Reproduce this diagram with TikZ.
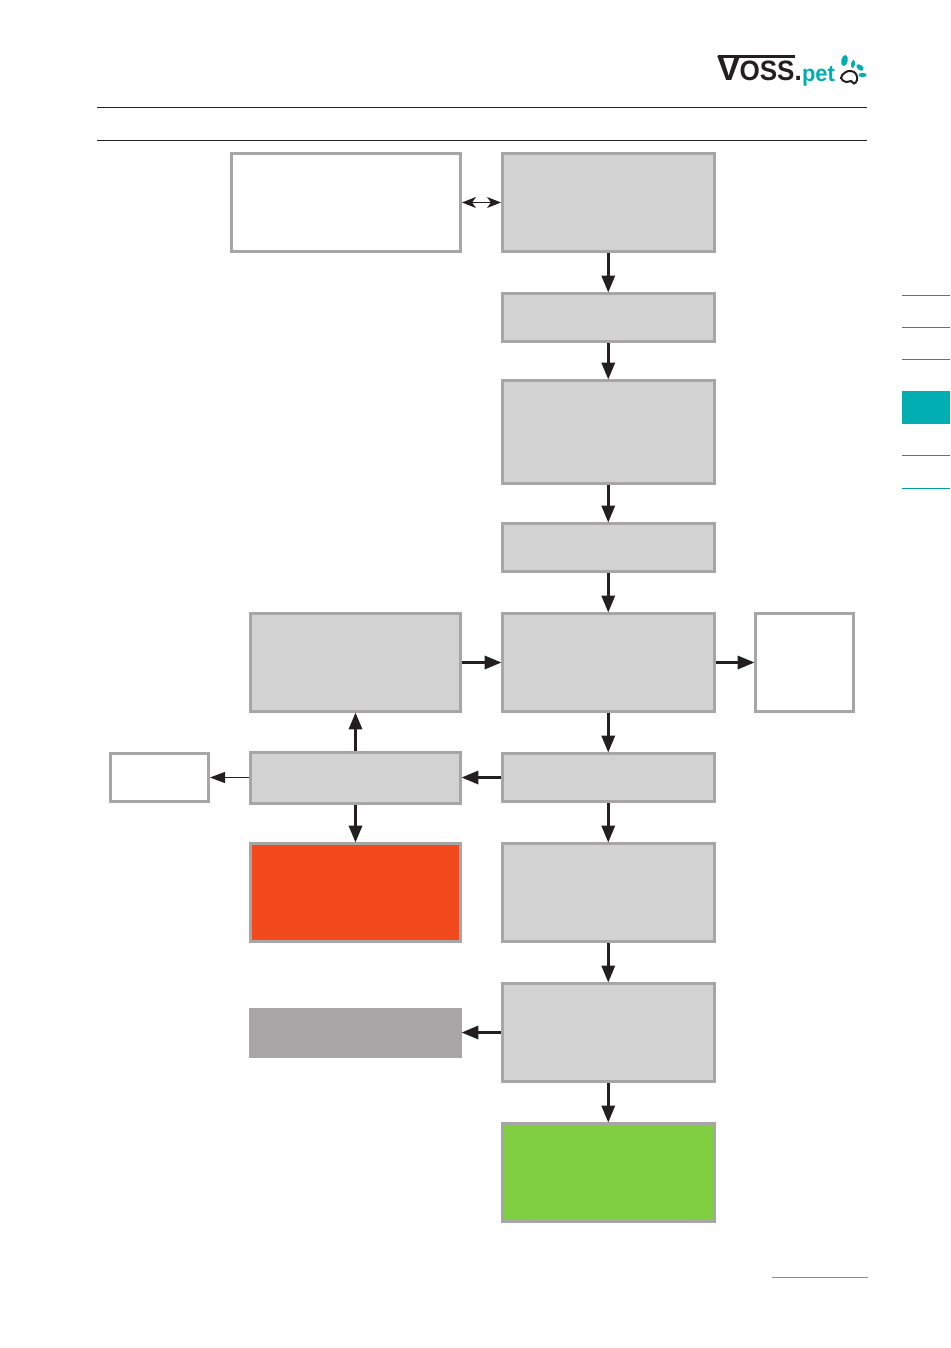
\documentclass[tikz,border=0pt]{standalone}
\usepackage{fontspec}
\setmainfont{Liberation Sans}
\usetikzlibrary{arrows.meta}
\definecolor{bordergray}{HTML}{A7A5A6}
\definecolor{boxgray}{HTML}{D2D2D2}
\definecolor{darkbox}{HTML}{A7A5A6}
\definecolor{redbox}{HTML}{F2491D}
\definecolor{greenbox}{HTML}{80CE41}
\definecolor{teal}{HTML}{00ADB1}
\definecolor{ink}{HTML}{231F20}
\tikzset{x=1pt,y=-1pt,
 bx/.style={draw=bordergray,line width=3pt,outer sep=1.5pt,inner sep=0pt,fill=#1},
 bx/.default=boxgray,
 flatbox/.style={fill=darkbox,draw=none,outer sep=0pt,inner sep=0pt},
 flow/.style={ink,line width=3.2pt,-{Triangle[length=17pt,width=13pt]},shorten >=-0.6pt},
 thinflow/.style={ink,line width=1pt,-{Triangle[length=15pt,width=11pt]}},
 both/.style={ink,line width=1pt,{Stealth[length=14pt,width=11pt,inset=4pt]}-{Stealth[length=14pt,width=11pt,inset=4pt]}},
 rule/.style={ink,line width=1pt},
 tab/.style={teal!90!black,line width=1pt},
 paw/.style={fill=teal,draw=none},
 logotext/.style={anchor=base west,inner sep=0pt,outer sep=0pt}
}
\newcommand{\bxnode}[6][bx]{\node[#1,minimum width=#4pt-#2pt-3pt,minimum height=#6pt-#5pt-3pt] (#3) at ({(#2+#4)/2},{(#5+#6)/2}) {};}
\begin{document}
\begin{tikzpicture}
\useasboundingbox (0,0) rectangle (950,1348);
\fill[white] (0,0) rectangle (950,1348);
% logo
\node[logotext,text=ink,font=\bfseries\fontsize{35}{35}\selectfont] (logov) at (717,81) {V};
\node[logotext,text=ink,font=\bfseries\fontsize{28}{28}\selectfont,xscale=0.93] (logooss) at (739.5,81) {OSS.};
\node[logotext,text=teal,font=\bfseries\fontsize{23}{23}\selectfont,xscale=0.95] (logopet) at (802,81.5) {pet};
\fill[ink] (718,55.5) rectangle (795,58);
\fill[paw,rotate around={-12:(844.5,60.5)}] (844.5,60.5) ellipse (3.3 and 5.6);
\fill[paw,rotate around={-8:(853,64)}] (853,64) ellipse (2 and 4);
\fill[paw,rotate around={55:(860,67.5)}] (860,67.5) ellipse (2.6 and 4.2);
\fill[paw] (862.5,75) ellipse (4 and 2.1);
\draw[ink,line width=2pt] plot[smooth cycle,tension=0.7] coordinates {(841,78) (845,72.5) (851,71) (856,74) (857,80) (854,83.5) (851,81) (846,82)};
% rules
\coordinate (r1a) at (97,107.5); \coordinate (r1b) at (867,107.5);
\coordinate (r2a) at (97,140.5); \coordinate (r2b) at (867,140.5);
\draw[rule] (r1a) -- (r1b);
\draw[rule] (r2a) -- (r2b);
\coordinate (r3a) at (772,1277); \coordinate (r3b) at (868,1277);
\draw[black!45,line width=1pt] (r3a) -- (r3b);
% side tabs
\foreach \yy in {295.5,327.5,359.5,455.5,488.5} \draw[tab] (902,\yy) -- (950,\yy);
\fill[teal] (902,391) rectangle (950,424);
% boxes
\bxnode[bx=white]{230}{a1}{462}{152}{253}
\bxnode{501}{a2}{715.5}{152}{253}
\bxnode{501}{a3}{715.5}{292}{343}
\bxnode{501}{a4}{715.5}{379}{485}
\bxnode{501}{a5}{715.5}{522}{573}
\bxnode{501}{a6}{715.5}{612}{713}
\bxnode[bx=white]{754}{a7}{855}{612}{713}
\bxnode{249}{a8}{462}{612}{713}
\bxnode{501}{a9}{715.5}{752}{803}
\bxnode{249}{a10}{462}{751}{805}
\bxnode[bx=white]{109}{a11}{210}{752}{803}
\bxnode[bx=redbox]{249}{a12}{462}{842}{943}
\bxnode{501}{a13}{715.5}{842}{943}
\bxnode{501}{a14}{715.5}{982}{1083}
\node[flatbox,minimum width=213pt,minimum height=50pt] (a15) at (355.5,1033) {};
\bxnode[bx=greenbox]{501}{a16}{715.5}{1122}{1223}
% connectors
\draw[both] (a1.east) -- (a2.west);
\draw[flow] (a2) -- (a3);
\draw[flow] (a3) -- (a4);
\draw[flow] (a4) -- (a5);
\draw[flow] (a5) -- (a6);
\draw[flow] (a6) -- (a7);
\draw[flow] (a8) -- (a6);
\draw[flow] (a6) -- (a9);
\draw[flow] (a9.west) -- (a9.west -| a10.east);
\draw[flow] (a10) -- (a8);
\draw[flow] (a10) -- (a12);
\draw[thinflow] (a10.west |- a11.east) -- (a11.east);
\draw[flow] (a9) -- (a13);
\draw[flow] (a13) -- (a14);
\draw[flow] (a14.west) -- (a14.west -| a15.east);
\draw[flow] (a14) -- (a16);
\end{tikzpicture}
\end{document}
